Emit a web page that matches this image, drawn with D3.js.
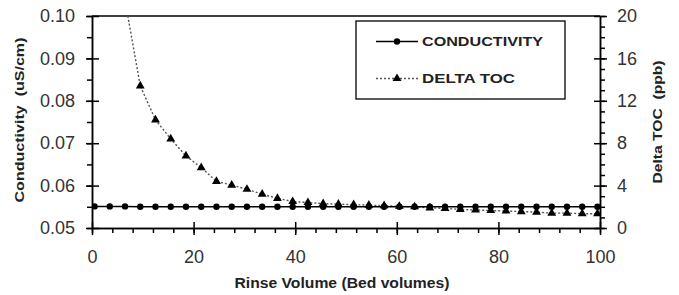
<!DOCTYPE html>
<html>
<head>
<meta charset="utf-8">
<script src="https://cdn.jsdelivr.net/npm/d3@7"></script>
<style>
  body { margin: 0; background: #fff; }
  svg { display: block; font-family: Arial, 'Liberation Sans', sans-serif; }
</style>
</head>
<body>
<div class="chart-container"></div>
<script>
// Data
const rinseVolume = [0.5, 3.5, 6.5, 9.5, 12.5, 15.5, 18.5, 21.5, 24.5, 27.5, 30.5, 33.5,
    36.5, 39.5, 42.5, 45.5, 48.5, 51.5, 54.5, 57.5, 60.5, 63.5, 66.5, 69.5, 72.5, 75.5,
    78.5, 81.5, 84.5, 87.5, 90.5, 93.5, 96.5, 99.5];
const conductivity = [0.0551, 0.0551, 0.0551, 0.055, 0.055, 0.055, 0.055, 0.055, 0.055,
    0.055, 0.055, 0.055, 0.055, 0.055, 0.055, 0.055, 0.055, 0.055, 0.055, 0.055, 0.055,
    0.055, 0.055, 0.055, 0.055, 0.055, 0.055, 0.055, 0.055, 0.055, 0.055, 0.055, 0.055, 0.055];
// delta TOC starts at the third point (the first is above the plot)
const tocVolume = rinseVolume.slice(2);
const deltaToc = [21.5, 13.4, 10.2, 8.4, 6.8, 5.7, 4.4, 4.05, 3.65, 3.2, 2.8, 2.5, 2.4,
    2.3, 2.25, 2.2, 2.15, 2.1, 2.05, 2.0, 1.9, 1.85, 1.75, 1.7, 1.65, 1.6, 1.55, 1.5,
    1.4, 1.4, 1.35, 1.35];
const xTicks = [0, 20, 40, 60, 80, 100];
const yLeftTicks = [0.05, 0.06, 0.07, 0.08, 0.09, 0.10];
const yRightTicks = [0, 4, 8, 12, 16, 20];
const seriesNames = ['CONDUCTIVITY', 'DELTA TOC'];

const condData = rinseVolume.map((x, i) => ({ x: x, y: conductivity[i] }));
const tocData = tocVolume.map((x, i) => ({ x: x, y: deltaToc[i] }));

setupCanvas();

function setupCanvas() {
    const svg_width = 679;
    const svg_height = 295;
    const plot = { left: 92, right: 600, top: 16, bottom: 228 };

    const svg = d3.select('.chart-container').append('svg')
        .attr('width', svg_width).attr('height', svg_height);

    //scales
    const xScale = d3.scaleLinear().domain([0, 100]).range([plot.left, plot.right]);
    const yLeft = d3.scaleLinear().domain([0.05, 0.10]).range([plot.bottom, plot.top]);
    const yRight = d3.scaleLinear().domain([0, 20]).range([plot.bottom, plot.top]);

    svg.append('clipPath').attr('id', 'plot-clip')
        .append('rect')
        .attr('x', plot.left).attr('y', plot.top)
        .attr('width', plot.right - plot.left).attr('height', plot.bottom - plot.top);

    //top frame line
    svg.append('line')
        .attr('x1', plot.left).attr('x2', plot.right)
        .attr('y1', plot.top).attr('y2', plot.top)
        .attr('stroke', '#000').attr('stroke-width', 1.5);

    //minor ticks first, majors on top
    const xMinor = d3.axisBottom(xScale).tickValues(d3.range(0, 101, 4)).tickFormat('').tickSize(5).tickSizeOuter(0);
    svg.append('g').attr('transform', `translate(0,${plot.bottom})`).call(xMinor).call(styleAxis);
    const yLMinor = d3.axisLeft(yLeft).tickValues(d3.range(0, 11).map(i => 0.05 + i * 0.005)).tickFormat('').tickSize(5).tickSizeOuter(0);
    svg.append('g').attr('transform', `translate(${plot.left},0)`).call(yLMinor).call(styleAxis);
    const yRMinor = d3.axisRight(yRight).tickValues(d3.range(0, 21)).tickFormat('').tickSize(5).tickSizeOuter(0);
    svg.append('g').attr('transform', `translate(${plot.right},0)`).call(yRMinor).call(styleAxis);

    const xAxis = d3.axisBottom(xScale).tickValues(xTicks).tickSizeOuter(0);
    const xAxisDraw = svg.append('g').attr('transform', `translate(0,${plot.bottom})`)
        .call(xAxis).call(styleAxis);
    xAxisDraw.selectAll('.tick line').attr('y1', -6).attr('y2', 7);
    xAxisDraw.selectAll('text').attr('y', 22).attr('dy', '0.71em');

    const yLAxis = d3.axisLeft(yLeft).tickValues(yLeftTicks).tickFormat(d3.format('.2f')).tickSizeOuter(0);
    const yLAxisDraw = svg.append('g').attr('transform', `translate(${plot.left},0)`)
        .call(yLAxis).call(styleAxis);
    yLAxisDraw.selectAll('.tick line').attr('x1', 7).attr('x2', -6);
    yLAxisDraw.selectAll('text').attr('x', -17);

    const yRAxis = d3.axisRight(yRight).tickValues(yRightTicks).tickSizeOuter(0);
    const yRAxisDraw = svg.append('g').attr('transform', `translate(${plot.right},0)`)
        .call(yRAxis).call(styleAxis);
    yRAxisDraw.selectAll('.tick line').attr('x1', -6).attr('x2', 7);
    yRAxisDraw.selectAll('text').attr('x', 17);

    //Lines
    const condLine = d3.line().x(d => xScale(d.x)).y(d => yLeft(d.y));
    const tocLine = d3.line().x(d => xScale(d.x)).y(d => yRight(d.y));
    const plotArea = svg.append('g').attr('clip-path', 'url(#plot-clip)');

    plotArea.append('path').datum(tocData)
        .attr('d', tocLine)
        .attr('fill', 'none').attr('stroke', '#555')
        .attr('stroke-width', 1.4).attr('stroke-dasharray', '2,2');
    plotArea.append('path').datum(condData)
        .attr('d', condLine)
        .attr('fill', 'none').attr('stroke', '#000').attr('stroke-width', 1.5);

    plotArea.selectAll('.cond-dot').data(condData).enter()
        .append('circle').attr('class', 'cond-dot')
        .attr('cx', d => xScale(d.x)).attr('cy', d => yLeft(d.y))
        .attr('r', 3.2).attr('fill', '#000');
    plotArea.selectAll('.toc-dot').data(tocData).enter()
        .append('path').attr('class', 'toc-dot')
        .attr('transform', d => `translate(${xScale(d.x)},${yRight(d.y)})`)
        .attr('d', d3.symbol(d3.symbolTriangle, 34))
        .attr('fill', '#000');

    //Legend
    const legend = svg.append('g').attr('class', 'legend');
    legend.append('rect')
        .attr('x', 356).attr('y', 21).attr('width', 209).attr('height', 78)
        .attr('fill', '#fff').attr('stroke', '#000').attr('stroke-width', 1.3);
    const rows = [
        { name: seriesNames[0], y: 41.5, width: 121, dash: null, stroke: '#000' },
        { name: seriesNames[1], y: 78.5, width: 93, dash: '2,2', stroke: '#555' }
    ];
    rows.forEach((r, i) => {
        legend.append('line')
            .attr('x1', 376).attr('x2', 418).attr('y1', r.y).attr('y2', r.y)
            .attr('stroke', r.stroke).attr('stroke-width', 1.5)
            .attr('stroke-dasharray', r.dash);
        if (i === 0) {
            legend.append('circle').attr('cx', 397).attr('cy', r.y).attr('r', 3.2).attr('fill', '#000');
        } else {
            legend.append('path').attr('transform', `translate(397,${r.y})`)
                .attr('d', d3.symbol(d3.symbolTriangle, 34)).attr('fill', '#000');
        }
        legend.append('text')
            .attr('x', 422).attr('y', r.y).attr('dy', '0.36em')
            .attr('textLength', r.width).attr('lengthAdjust', 'spacingAndGlyphs')
            .style('font-size', '13px').style('font-weight', 'bold').style('fill', '#222')
            .text(r.name);
    });

    //Axis titles
    svg.append('text')
        .attr('x', 342).attr('y', 288)
        .attr('textLength', 215).attr('lengthAdjust', 'spacingAndGlyphs')
        .attr('text-anchor', 'middle')
        .style('font-size', '14px').style('font-weight', 'bold').style('fill', '#222')
        .text('Rinse Volume (Bed volumes)');
    svg.append('text')
        .attr('transform', 'translate(19,120) rotate(-90)')
        .attr('dy', '0.35em').attr('text-anchor', 'middle')
        .attr('textLength', 165).attr('lengthAdjust', 'spacingAndGlyphs')
        .style('white-space', 'pre')
        .style('font-size', '13px').style('font-weight', 'bold').style('fill', '#222')
        .text('Conductivity  (uS/cm)');
    svg.append('text')
        .attr('transform', 'translate(657,122) rotate(-90)')
        .attr('dy', '0.35em').attr('text-anchor', 'middle')
        .attr('textLength', 123).attr('lengthAdjust', 'spacingAndGlyphs')
        .style('white-space', 'pre')
        .style('font-size', '13px').style('font-weight', 'bold').style('fill', '#222')
        .text('Delta TOC  (ppb)');
}

function styleAxis(axis) {
    axis.select('.domain').attr('stroke', '#000').attr('stroke-width', 1.5);
    axis.selectAll('.tick line').attr('stroke', '#000').attr('stroke-width', 1.5);
    axis.selectAll('text')
        .style('font-size', '18px')
        .style('font-family', "Arial, 'Liberation Sans', sans-serif")
        .style('fill', '#333');
}
</script>
</body>
</html>
